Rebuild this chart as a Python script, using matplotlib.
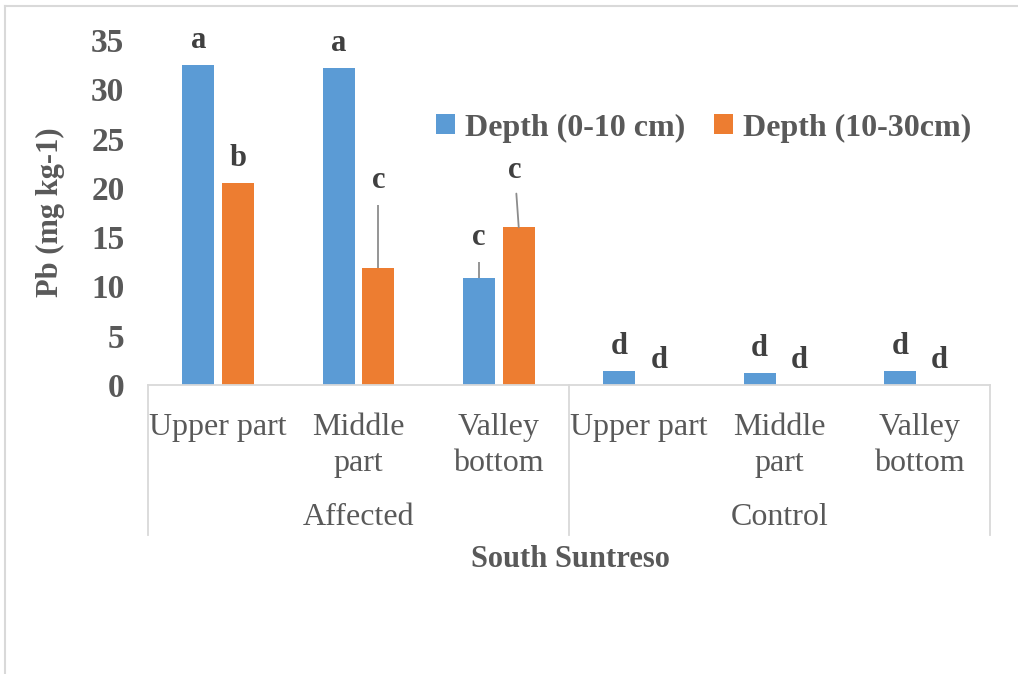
import numpy as np
import matplotlib
matplotlib.use("Agg")
import matplotlib.pyplot as plt
from matplotlib.lines import Line2D

# data
sites = ["Upper part", "Middle\npart", "Valley\nbottom",
         "Upper part", "Middle\npart", "Valley\nbottom"]
groups = ["Affected", "Control"]
depth_0_10 = [32.5, 32.2, 10.9, 1.4, 1.2, 1.4]
depth_10_30 = [20.5, 11.9, 16.0, 0.0, 0.0, 0.0]
err_0_10 = [0, 0, 1.6, 0, 0, 0]
err_10_30 = [0, 6.4, 0, 0, 0, 0]
letters_0_10 = ["a", "a", "c", "d", "d", "d"]
letters_10_30 = ["b", "c", "c", "d", "d", "d"]

BLUE = "#5B9BD5"
ORANGE = "#ED7D31"
TXT = "#595959"
LINE = "#D9D9D9"

plt.rcParams["font.family"] = ["Liberation Serif", "DejaVu Serif"]

fig = plt.figure(figsize=(10.18, 6.74), dpi=100)
ax = fig.add_axes([0.1454, 0.4288, 0.827, 0.5119])

x = np.arange(len(sites))
w = 0.228
off = 0.142

zeros = [0] * len(x)
ax.bar(x - off, depth_0_10, w, color=BLUE, label="Depth (0-10 cm)",
       yerr=[zeros, err_0_10], error_kw=dict(ecolor="#8c8c8c", elinewidth=1.3, capsize=0))
ax.bar(x + off, depth_10_30, w, color=ORANGE, label="Depth (10-30cm)",
       yerr=[zeros, err_10_30], error_kw=dict(ecolor="#8c8c8c", elinewidth=1.3, capsize=0))

ax.set_xlim(-0.5, 5.5)
ax.set_ylim(0, 35)
ax.set_yticks(range(0, 36, 5))

lab_kw = dict(ha="center", va="bottom", fontsize=22, fontweight="bold",
              color="#404040", textcoords="offset pixels")
for i in x:
    top = depth_0_10[i] + err_0_10[i]
    ax.annotate(letters_0_10[i], (i - off, top), xytext=(0, 10), **lab_kw)
    top = depth_10_30[i] + err_10_30[i]
    if i == 2:
        # leader line from the label down to the bar
        ax.annotate(letters_10_30[i], (i + off, top), xytext=(-4, 42),
                    arrowprops=dict(arrowstyle="-", color="#8c8c8c", lw=1.3,
                                    shrinkA=4, shrinkB=0), **lab_kw)
    else:
        ax.annotate(letters_10_30[i], (i + off, top), xytext=(0, 10), **lab_kw)

for s in ["left", "right", "top"]:
    ax.spines[s].set_visible(False)
ax.spines["bottom"].set_color(LINE)
ax.spines["bottom"].set_linewidth(1.3)

ax.tick_params(axis="y", length=0, pad=17, labelsize=24, labelcolor=TXT)
for t in ax.get_yticklabels():
    t.set_fontweight("bold")
ax.set_xticks(x)
ax.set_xticklabels(sites, fontsize=23, color=TXT, linespacing=1.35)
ax.tick_params(axis="x", length=0, pad=20)

# category group separators and labels
tr = ax.get_xaxis_transform()
for xs in [-0.5, 2.5, 5.5]:
    ax.plot([xs, xs], [0, -0.435], transform=tr, color=LINE, lw=1.3, clip_on=False)
for gi, g in enumerate(groups):
    ax.text(1 + 3 * gi, -0.383, g, transform=tr, ha="center", va="center",
            fontsize=23, color=TXT)

ax.text(0.502, -0.507, "South Suntreso", transform=ax.transAxes, ha="center",
        va="center", fontsize=22, fontweight="bold", color=TXT)
ax.set_ylabel("Pb (mg kg-1)", fontsize=22, fontweight="bold", color=TXT)
ax.yaxis.set_label_coords(-0.099, 0.5)

leg = fig.legend(loc="center", bbox_to_anchor=(0.691, 0.81), ncol=2, frameon=False,
                 handlelength=0.6, handleheight=0.6, handletextpad=0.3,
                 columnspacing=0.9, prop=dict(size=23, weight="bold"))
for t in leg.get_texts():
    t.set_color(TXT)

# outer chart border (top and left only visible)
fig.add_artist(Line2D([5 / 1018, 1], [1 - 6 / 674, 1 - 6 / 674], color=LINE, lw=1.5))
fig.add_artist(Line2D([5 / 1018, 5 / 1018], [0, 1 - 6 / 674], color=LINE, lw=1.5))

fig.savefig("out.png", dpi=100)
